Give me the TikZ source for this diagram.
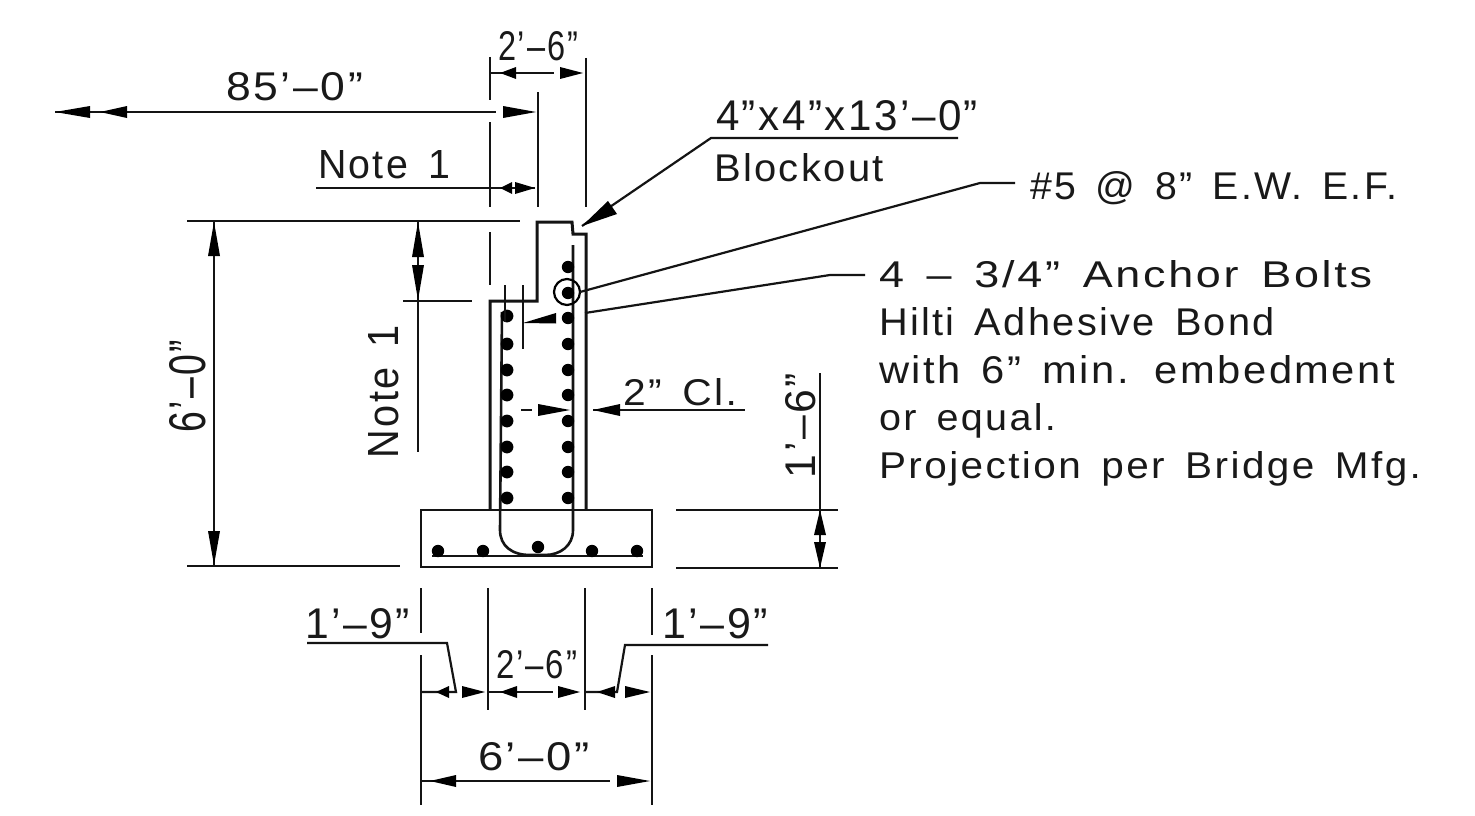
\documentclass[tikz,border=0pt]{standalone}
\usepackage{fontspec}
\usepackage{graphicx}
\setmainfont{Liberation Sans}
\newfontfamily\plain[LetterSpace=6,WordSpace=1.5]{Liberation Sans}
\tikzset{
  thinln/.style={line width=2.2pt,black!92},
  outln/.style={line width=3pt,black!92},
  lbl/.style={inner sep=0pt,outer sep=0pt,anchor=base west,text=black!90},
  rlbl/.style={inner sep=0pt,outer sep=0pt,anchor=base west,rotate=90,text=black!90},
}
% \txt{name}{x}{baseline y}{width}{cap height}{text}
\newcommand{\txt}[6]{\node[lbl] (#1) at (#2,#3) {\resizebox{#4pt}{#5pt}{\plain #6}};}
\newcommand{\rtxt}[6]{\node[rlbl] (#1) at (#2,#3) {\resizebox{#4pt}{#5pt}{\plain #6}};}
% filled heads: tip, base, cross position
\newcommand{\hh}[3]{\fill[black] (#1,#3) -- (#2,#3-6) -- (#2,#3+6) -- cycle;}
\newcommand{\hv}[3]{\fill[black] (#3,#1) -- (#3-6,#2) -- (#3+6,#2) -- cycle;}
\begin{document}
\begin{tikzpicture}[x=1pt,y=-1pt]
\useasboundingbox (0,0) rectangle (1475,816);
\fill[white] (0,0) rectangle (1475,816);

% wall and footing outline
\draw[outln,line join=miter] (490,510) -- (490,301) -- (537,301) -- (537,222) -- (572,222) -- (573,234) -- (586,234) -- (586,510);
\draw[line width=2.6pt,black!92] (421,510) rectangle (652,567);

% reinforcement
\draw[line width=2.6pt,black!92] (573,245) -- (573,530) .. controls (573,546) and (560,555) .. (545,555) -- (530,555) .. controls (512,555) and (500,546) .. (500,530) -- (502,312);
\draw[line width=2.2pt,black!92] (432,556) -- (643,556);
\foreach \x/\y in {438/551,483/551,538/547,592/551,637/551}{\fill (\x,\y) circle (6.2pt);}
\foreach \y in {267,293,318,344,370,395,421,447,472,498}{\fill (568,\y) circle (6.2pt);}
\foreach \y in {316,344,370,395,421,447,472,498}{\fill (507,\y) circle (6.4pt);}
\draw[line width=2.2pt] (567,292) circle (13pt);
% anchor bolts
\draw[thinln] (505,285) -- (505,322);
\draw[thinln] (523,285) -- (523,349);
\fill (523,323) -- (556,313) -- (556,323.5) -- cycle;

% extension lines top
\draw[thinln] (490,57) -- (490,100);
\draw[thinln] (490,122) -- (490,207);
\draw[thinln] (538,92) -- (538,207);
\draw[thinln] (586,58) -- (586,207);
\draw[thinln] (490,232) -- (490,285);
% 2'-6" top
\draw[thinln] (490,73) -- (554,73);
\hh{500}{516}{73}\hh{583}{560}{73}
\txt{topwidth}{498}{61}{80}{29}{2’–6”}
% 85'-0"
\draw[thinln] (55,112) -- (496,112);
\hh{55}{90}{112}\hh{100}{127}{112}\hh{536}{503}{112}
\txt{span}{226}{100}{137}{28}{85’–0”}
% Note 1 top
\draw[thinln] (316,188) -- (535,188);
\hh{500}{512}{188}\hh{535}{515}{188}
\txt{notea}{318}{178}{132}{28}{Note 1}

% left dims
\draw[thinln] (187,221) -- (520,221);
\draw[thinln] (187,566) -- (400,566);
\draw[thinln] (214,222) -- (214,565);
\hv{222}{256}{214}\hv{565}{531}{214}
\rtxt{height}{205}{432}{92}{36}{6’–0”}
\draw[thinln] (403,301) -- (472,301);
\draw[thinln] (418,222) -- (418,452);
\hv{222}{257}{418}\hv{300}{265}{418}
\rtxt{noteb}{398}{458}{133}{30}{Note 1}

% 2" Cl.
\draw[thinln] (521,410) -- (532,410);
\hh{570}{538}{410}
\draw[thinln] (593,410) -- (745,410);
\hh{593}{620}{410}
\txt{cover}{623}{405}{114}{27}{2” Cl.}

% 1'-6"
\draw[thinln] (676,510) -- (838,510);
\draw[thinln] (676,568) -- (838,568);
\draw[thinln] (820,373) -- (820,568);
\hv{510}{535}{820}\hv{568}{542}{820}
\rtxt{baseh}{815}{478}{105}{30}{1’–6”}

% bottom extension
\draw[thinln] (421,588) -- (421,633);
\draw[thinln] (421,655) -- (421,805);
\draw[thinln] (488,588) -- (488,710);
\draw[thinln] (585,588) -- (585,710);
\draw[thinln] (652,588) -- (652,635);
\draw[thinln] (652,655) -- (652,805);
% bottom dims
\coordinate (la) at (307,643);
\coordinate (lb) at (447,643);
\coordinate (lc) at (456,692);
\draw[thinln] (la) -- (lb) -- (lc) -- (421,692);
\hh{436}{449}{692}\hh{485}{462}{692}
\draw[thinln] (488,692) -- (553,692);
\hh{500}{517}{692}\hh{580}{558}{692}
\coordinate (ra) at (768,645);
\coordinate (rb) at (625,645);
\coordinate (rc) at (617,692);
\draw[thinln] (ra) -- (rb) -- (rc) -- (585,692);
\hh{597}{615}{692}\hh{650}{625}{692}
\draw[thinln] (421,781) -- (610,781);
\hh{430}{456}{781}\hh{650}{617}{781}
\txt{lwid}{305}{638}{105}{30}{1’–9”}
\txt{rwid}{662}{638}{106}{30}{1’–9”}
\txt{mwid}{496}{678}{81}{28}{2’–6”}
\txt{totw}{478}{770}{112}{28}{6’–0”}

% callouts
\txt{blocka}{716}{130}{262}{30}{4”x4”x13’–0”}
\txt{blockb}{714}{181}{170}{28}{Blockout}
\coordinate (ba) at (958,138);
\coordinate (bb) at (711,138);
\coordinate (bt) at (582,226);
\draw[thinln] (ba) -- (bb) -- (bt);
\fill (bt) -- (608,201) -- (617,214) -- cycle;
\txt{rebar}{1030}{199}{367}{28}{\#5 @ 8” E.W. E.F.}
\coordinate (ra1) at (1015,183);
\coordinate (ra2) at (980,183);
\coordinate (ra3) at (580,292);
\draw[thinln] (ra1) -- (ra2) -- (ra3);
\txt{bolta}{879}{287}{493}{27}{4 – 3/4” Anchor Bolts}
\coordinate (ba1) at (865,275);
\coordinate (ba2) at (830,275);
\coordinate (ba3) at (585,313);
\draw[thinln] (ba1) -- (ba2) -- (ba3);
\txt{boltb}{879}{335}{396}{28}{Hilti Adhesive Bond}
\txt{boltc}{879}{383}{516}{28}{with 6” min. embedment}
\txt{boltd}{879}{430}{177}{27}{or equal.}
\txt{bolte}{879}{478}{542}{27}{Projection per Bridge Mfg.}
\end{tikzpicture}
\end{document}
